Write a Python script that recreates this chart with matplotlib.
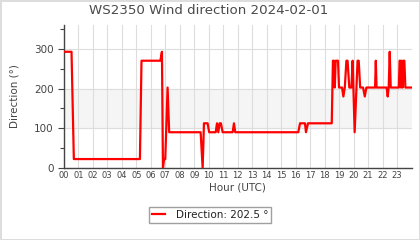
import matplotlib
matplotlib.use("Agg")
import matplotlib.pyplot as plt
from matplotlib.ticker import MultipleLocator

title = "WS2350 Wind direction 2024-02-01"
hours = [0, 0.53, 0.69, 5.25, 5.36, 6.66, 6.77, 6.84, 6.92, 7.0, 7.16, 7.27,
         9.44, 9.58, 9.67, 9.92, 10.03, 10.48, 10.57, 10.66, 10.75, 10.84, 10.96,
         11.65, 11.74, 11.83, 16.18, 16.3, 16.64, 16.71, 16.85, 18.49, 18.57,
         18.64, 18.70, 18.76, 18.92, 18.99, 19.2, 19.29, 19.39, 19.5, 19.58,
         19.7, 19.85, 19.93, 20.07, 20.27, 20.35, 20.45, 20.65, 20.77, 20.88,
         21.48, 21.53, 21.58, 22.28, 22.35, 22.42, 22.49, 22.56, 23.12, 23.17,
         23.22, 23.27, 23.32, 23.38, 23.43, 23.5, 23.57, 24.0]
direction = [292.5, 292.5, 22.5, 22.5, 270, 270, 292.5, 0, 22.5, 22.5, 202.5, 90,
             90, 0, 112.5, 112.5, 90, 90, 112.5, 90, 112.5, 112.5, 90,
             90, 112.5, 90, 90, 112.5, 112.5, 90, 112.5, 112.5, 270,
             270, 202.5, 270, 270, 202.5, 202.5, 180, 202.5, 270, 270,
             202.5, 202.5, 270, 90, 270, 270, 202.5, 202.5, 180, 202.5,
             202.5, 270, 202.5, 202.5, 180, 202.5, 292.5, 202.5, 202.5, 270,
             270, 202.5, 270, 202.5, 270, 270, 202.5, 202.5]
hour_labels = [f"{h:02d}" for h in range(24)]
legend_label = "Direction: 202.5 °"

txt = "#444444"
fig = plt.figure(figsize=(4.2, 2.4), dpi=100)
fig.patch.set_edgecolor("#dddddd")
fig.patch.set_linewidth(2)
ax = fig.add_axes([0.152, 0.30, 0.828, 0.596])
ax.axhspan(100, 200, color="#f5f5f5", zorder=0)
ax.plot(hours, direction, color="#ff0000", lw=1.6, label=legend_label, zorder=3)
ax.set_xlim(0, 24)
ax.set_ylim(0, 360)
ax.set_xticks(range(24))
ax.set_xticklabels(hour_labels, fontsize=6, color=txt)
ax.yaxis.set_major_locator(MultipleLocator(100))
ax.yaxis.set_minor_locator(MultipleLocator(50))
ax.tick_params(axis="y", labelsize=7.5, labelcolor=txt, color=txt, length=4, width=0.8)
ax.tick_params(axis="y", which="minor", length=3, color=txt, width=0.8)
ax.tick_params(axis="x", length=0, pad=2)
ax.grid(True, color="#dddddd", lw=0.8, zorder=1)
for s in ["top", "right"]:
    ax.spines[s].set_visible(False)
for s in ["left", "bottom"]:
    ax.spines[s].set_color(txt)
    ax.spines[s].set_linewidth(1)
fig.suptitle(title, x=0.497, y=0.955, fontsize=9.6, color="#4a4a4a", va="center")
ax.set_xlabel("Hour (UTC)", fontsize=7.5, color=txt, labelpad=2)
ax.set_ylabel("Direction (°)", fontsize=7.5, color=txt, labelpad=10)
leg = fig.legend(loc="center", bbox_to_anchor=(0.50, 0.105), fontsize=7.5,
                 frameon=True, fancybox=False, edgecolor="#888888",
                 handlelength=1.3, borderpad=0.3, handletextpad=1.0)
for t in leg.get_texts():
    t.set_color("#222222")
fig.savefig("out.png", dpi=100, edgecolor=fig.get_edgecolor())
